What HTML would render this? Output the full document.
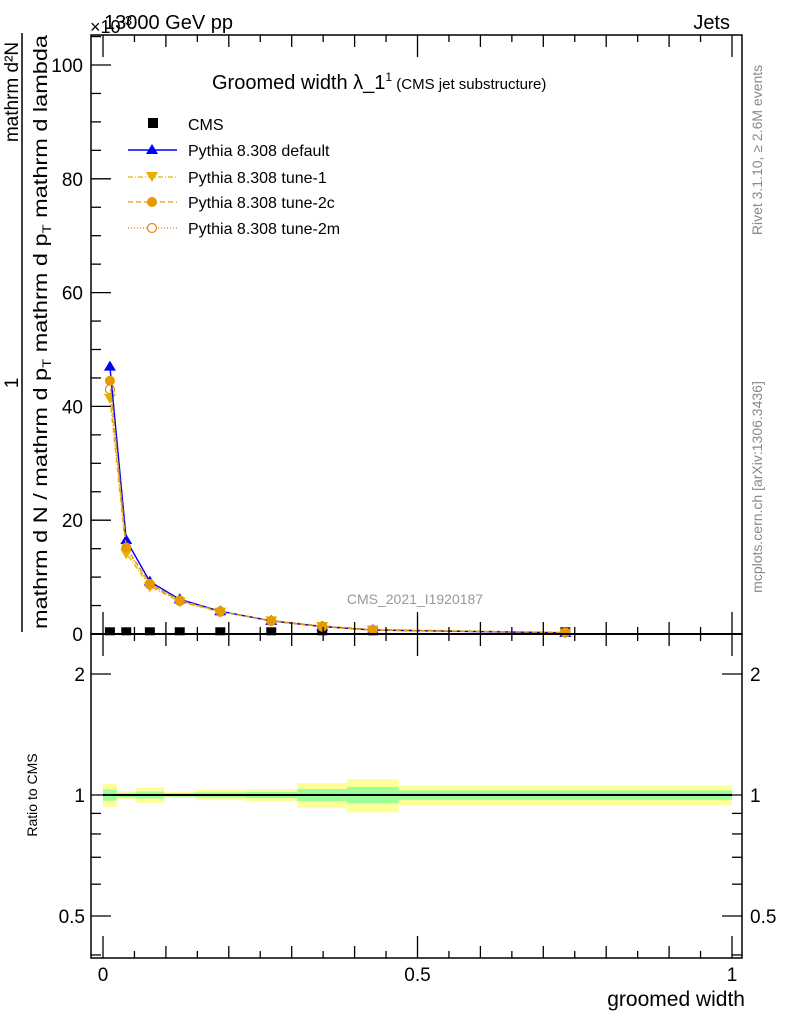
<!DOCTYPE html>
<html><head><meta charset="utf-8"><style>
body{margin:0;background:#fff}
svg{display:block;font-family:"Liberation Sans",sans-serif}
</style></head><body>
<svg id="c" width="786" height="1024" viewBox="0 0 786 1024">
<rect width="786" height="1024" fill="#fff"/>
<g id="ratio"></g>
<g id="main"></g>
<g id="axes"></g>
<text x="104" y="29" font-size="20">13000 GeV pp</text>
<text x="90" y="33" font-size="18">×10<tspan dy="-8" font-size="13">-3</tspan></text>
<text x="730" y="29" font-size="20" text-anchor="end">Jets</text>
<text x="212" y="89" font-size="20">Groomed width λ_1<tspan dy="-8" font-size="12">1</tspan><tspan dy="8" font-size="15"> (CMS jet substructure)</tspan></text>
<text x="415" y="604" font-size="14" fill="#999" text-anchor="middle">CMS_2021_I1920187</text>
<text transform="translate(762,150) rotate(-90)" font-size="14" fill="#888" text-anchor="middle">Rivet 3.1.10, ≥ 2.6M events</text>
<text transform="translate(762,487) rotate(-90)" font-size="14" fill="#888" text-anchor="middle">mcplots.cern.ch [arXiv:1306.3436]</text>
<g font-size="19">
<text transform="translate(18,92) rotate(-90)" text-anchor="middle">mathrm d²N</text>
<text transform="translate(18,383) rotate(-90)" text-anchor="middle">1</text>
<line x1="22" y1="33" x2="22" y2="632" stroke="#000" stroke-width="1.5"/>
<text transform="translate(47,629) rotate(-90)" textLength="594" lengthAdjust="spacingAndGlyphs">mathrm d N / mathrm d p<tspan font-size="12" dy="4">T</tspan><tspan dy="-4"> mathrm d p</tspan><tspan font-size="12" dy="4">T</tspan><tspan dy="-4"> mathrm d lambda</tspan></text>
</g>
<text x="745" y="1006" font-size="21" text-anchor="end">groomed width</text>
<text transform="translate(37,795) rotate(-90)" font-size="14" text-anchor="middle">Ratio to CMS</text>
<g font-size="16">
<rect x="148" y="118" width="10" height="10" fill="#000"/>
<text x="188" y="130">CMS</text>
<line x1="128" y1="150" x2="177" y2="150" stroke="#00f" stroke-width="1.5"/>
<polygon points="152,144 146,154 158,154" fill="#00f"/>
<text x="188" y="156">Pythia 8.308 default</text>
<line x1="128" y1="177" x2="177" y2="177" stroke="#e8b000" stroke-width="1.2" stroke-dasharray="5,2,1,2"/>
<polygon points="146,172 158,172 152,182" fill="#e8b000"/>
<text x="188" y="183">Pythia 8.308 tune-1</text>
<line x1="128" y1="202" x2="177" y2="202" stroke="#e69a00" stroke-width="1.2" stroke-dasharray="5,3"/>
<circle cx="152" cy="202" r="5" fill="#e69a00"/>
<text x="188" y="208">Pythia 8.308 tune-2c</text>
<line x1="128" y1="228" x2="177" y2="228" stroke="#f08020" stroke-width="1.2" stroke-dasharray="1,2"/>
<circle cx="152" cy="228" r="4.5" fill="#fff" stroke="#f08020" stroke-width="1.2"/>
<text x="188" y="234">Pythia 8.308 tune-2m</text>
</g>
</svg>
<script>
const binEdges=[0,0.022,0.052,0.097,0.147,0.226,0.309,0.388,0.47,1.0];
const cmsVals=[0.3,0.3,0.3,0.3,0.3,0.3,0.3,0.3,0.3];
const defaultVals=[47,16.5,9.2,6.1,4.0,2.3,1.3,0.7,0.2];
const tune1Vals=[41.5,14.2,8.4,5.7,3.9,2.4,1.4,0.8,0.25];
const tune2cVals=[44.5,15.2,8.8,5.9,4.0,2.3,1.3,0.7,0.25];
const tune2mVals=[43,15,8.7,5.8,3.9,2.3,1.3,0.7,0.25];
const yellowErr=[0.065,0.023,0.044,0.017,0.029,0.035,0.071,0.095,0.056];
const greenErr=[0.032,0.012,0.02,0.01,0.014,0.018,0.035,0.047,0.027];
const yTicks=[0,20,40,60,80,100];
const ratioTicks=[0.5,1,2];
const xTicks=[0,0.5,1];

const NS="http://www.w3.org/2000/svg";
const L=91,R=742,T=35,MB=634,RB=958;
const X=v=>103+629*v;
const Y=v=>634-5.69*v;
const RY=r=>795-121*Math.log2(r);
function mk(p,tag,a){const e=document.createElementNS(NS,tag);for(const k in a)e.setAttribute(k,a[k]);p.appendChild(e);return e;}
const main=document.getElementById('main'),ratio=document.getElementById('ratio'),axes=document.getElementById('axes');
const mids=binEdges.slice(0,-1).map((e,i)=>(e+binEdges[i+1])/2);

for(let i=0;i<yellowErr.length;i++){
  const x0=X(binEdges[i]),x1=X(binEdges[i+1]);
  const y=mk(ratio,'rect',{x:x0,y:RY(1+yellowErr[i]),width:x1-x0,height:RY(1-yellowErr[i])-RY(1+yellowErr[i]),fill:'#ffff99'});
  
  
  const g=mk(ratio,'rect',{x:x0,y:RY(1+greenErr[i]),width:x1-x0,height:RY(1-greenErr[i])-RY(1+greenErr[i]),fill:'#99ff99'});
  
  
}
mk(ratio,'line',{x1:X(binEdges[0]),x2:X(1),y1:RY(1),y2:RY(1),stroke:'#000','stroke-width':2});

const series=[
 {v:tune2mVals,c:'#f08020',d:'1,2',m:'oc',n:'tune-2m'},
 {v:tune1Vals,c:'#e8b000',d:'5,2,1,2',m:'tri-down',n:'tune-1'},
 {v:defaultVals,c:'#0000ff',d:'',m:'tri',n:'default'},
 {v:tune2cVals,c:'#e69a00',d:'5,3',m:'circ',n:'tune-2c'}];
cmsVals.forEach((v,i)=>{const r=mk(main,'rect',{x:X(mids[i])-5,y:Y(v)-5,width:10,height:8,fill:'#000'});
 
 });
series.forEach(s=>{
  const pts=s.v.map((v,i)=>X(mids[i])+','+Y(v)).join(' ');
  const pl=mk(main,'polyline',{points:pts,fill:'none',stroke:s.c,'stroke-width':1.4,'stroke-dasharray':s.d});
  
  
  s.v.forEach((v,i)=>{const x=X(mids[i]),y=Y(v);let e;
    if(s.m==='tri')e=mk(main,'polygon',{points:`${x},${y-6} ${x-6},${y+4} ${x+6},${y+4}`,fill:s.c});
    else if(s.m==='tri-down')e=mk(main,'polygon',{points:`${x-6},${y-4} ${x+6},${y-4} ${x},${y+6}`,fill:s.c});
    else if(s.m==='circ')e=mk(main,'circle',{cx:x,cy:y,r:5,fill:s.c});
    else e=mk(main,'circle',{cx:x,cy:y,r:4.5,fill:'#fff',stroke:s.c,'stroke-width':1.2});
    
    });
});

mk(axes,'rect',{x:L,y:T,width:R-L,height:MB-T,fill:'none',stroke:'#000','stroke-width':1.5});
mk(axes,'rect',{x:L,y:MB,width:R-L,height:RB-MB,fill:'none',stroke:'#000','stroke-width':1.5});
mk(axes,'line',{x1:L,x2:R,y1:Y(0),y2:Y(0),stroke:'#000','stroke-width':2});
for(let v=0;v<=105;v+=5){const maj=v%20===0,len=maj?20:10;
 mk(axes,'line',{x1:L,x2:L+len,y1:Y(v),y2:Y(v),stroke:'#000','stroke-width':1.3});}
yTicks.forEach(v=>{const t=mk(axes,'text',{x:L-8,y:Y(v)+7,'font-size':19,'text-anchor':'end'});t.textContent=v;
 
 });
for(let k=0;k<=20;k++){const v=k*0.05,maj=k%10===0,mid=k%2===0,len=maj?22:(mid?12:7);
 [[MB,-1],[T,1],[RB,-1],[MB,1]].forEach(([y,dir])=>mk(axes,'line',{x1:X(v),x2:X(v),y1:y,y2:y+dir*len,stroke:'#000','stroke-width':1.3}));}
xTicks.forEach(v=>{const t=mk(axes,'text',{x:X(v),y:981,'font-size':19,'text-anchor':'middle'});t.textContent=v;
 
 });
[0.4,0.5,0.6,0.7,0.8,0.9,1,2].forEach(r=>{const maj=ratioTicks.includes(r),len=maj?20:10;
 mk(axes,'line',{x1:L,x2:L+len,y1:RY(r),y2:RY(r),stroke:'#000','stroke-width':1.3});
 mk(axes,'line',{x1:R,x2:R-len,y1:RY(r),y2:RY(r),stroke:'#000','stroke-width':1.3});});
ratioTicks.forEach(r=>{[[L-6,'end'],[R+8,'start']].forEach(([x,a])=>{const t=mk(axes,'text',{x:x,y:RY(r)+7,'font-size':19,'text-anchor':a});t.textContent=r;
 
 });});
</script>
</body></html>
